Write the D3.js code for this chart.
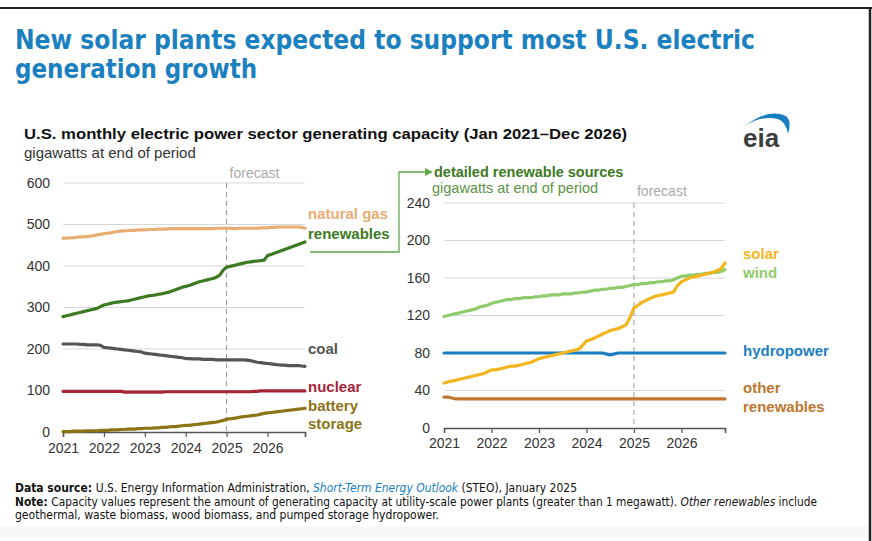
<!DOCTYPE html>
<html><head><meta charset="utf-8">
<script src="https://cdn.jsdelivr.net/npm/d3@7"></script>
<style>
html,body{margin:0;padding:0;background:#fff;}
svg{display:block;font-family:"Liberation Sans",Arial,sans-serif;}
</style></head>
<body>
<svg id="chart" width="872" height="541"></svg>
<script>
// ---------- DATA (monthly, Jan 2021 – Dec 2026) ----------
const years = [2021, 2022, 2023, 2024, 2025, 2026];
const forecastStart = 2025;
const leftTicks = [0, 100, 200, 300, 400, 500, 600];
const rightTicks = [0, 40, 80, 120, 160, 200, 240];

const naturalGas = [
 467,467,468,468,469,470,470,471,472,473,475,476,
 478,479,480,482,483,484,485,485,486,486,487,487,
 487,488,488,488,489,489,489,490,490,490,490,490,
 490,490,490,490,490,490,490,490,490,491,491,491,
 491,491,490,490,491,491,491,491,491,491,492,492,
 492,493,493,494,494,494,494,494,494,494,493,491];
const renewables = [
 278,280,282,284,286,288,290,292,294,296,298,302,
 306,308,310,312,313,314,315,316,318,320,322,324,
 326,328,329,330,332,333,335,337,340,343,346,349,
 351,353,356,359,362,364,366,368,370,373,378,390,
 397,399,401,403,405,407,409,410,411,412,413,414,
 425,428,431,434,437,440,443,446,449,452,455,458];
const coal = [
 212,212,212,212,212,211,211,210,210,210,210,209,
 204,203,202,201,200,199,198,197,196,195,194,193,
 190,189,188,187,186,185,184,183,182,181,180,179,
 177,177,176,176,176,175,175,175,175,174,174,174,
 174,174,174,174,174,174,173,172,170,168,167,166,
 165,164,163,162,161,161,160,160,160,160,159,158];
const nuclear = [
 98,98,98,98,98,98,98,98,98,98,98,98,
 98,98,98,98,98,98,96,96,96,96,96,96,
 96,96,96,96,96,96,97,97,97,97,97,97,
 97,97,97,97,97,97,97,97,97,97,97,97,
 97,97,97,97,97,97,97,97,98,98,99,99,
 99,99,99,99,99,99,99,99,99,99,99,99];
const battery = [
 1,1,1,2,2,2,2,3,3,3,3,4,
 4,4,5,5,5,6,6,7,7,7,8,8,
 9,9,9,10,10,11,11,12,13,13,14,15,
 16,16,17,18,19,20,21,22,23,24,26,28,
 31,32,33,34,36,37,38,39,40,41,43,45,
 46,47,48,49,50,51,52,53,54,55,56,57];

const solar = [
 48,49,50,51,52,53,54,55,56,57,58,60,
 62,62,63,64,65,66,66,67,68,69,70,72,
 74,75,76,77,78,79,80,81,82,83,84,88,
 93,94,96,98,100,102,104,105,106,108,110,118,
 128,131,134,136,138,140,141,142,143,144,145,152,
 156,158,160,161,162,163,164,165,166,168,170,176];
const wind = [
 119,120,121,122,123,124,125,126,127,129,130,131,
 133,134,135,136,137,137,138,138,139,139,139,140,
 140,141,141,142,142,142,143,143,143,144,144,145,
 145,146,147,147,148,148,149,149,150,150,151,152,
 153,153,154,154,155,155,156,156,157,157,158,160,
 162,162,163,163,164,164,165,165,166,166,167,169];
const hydropower = [
 80,80,80,80,80,80,80,80,80,80,80,80,
 80,80,80,80,80,80,80,80,80,80,80,80,
 80,80,80,80,80,80,80,80,80,80,80,80,
 80,80,80,80,80,79,78,79,80,80,80,80,
 80,80,80,80,80,80,80,80,80,80,80,80,
 80,80,80,80,80,80,80,80,80,80,80,80];
const otherRenewables = [
 33,33,32,31,31,31,31,31,31,31,31,31,
 31,31,31,31,31,31,31,31,31,31,31,31,
 31,31,31,31,31,31,31,31,31,31,31,31,
 31,31,31,31,31,31,31,31,31,31,31,31,
 31,31,31,31,31,31,31,31,31,31,31,31,
 31,31,31,31,31,31,31,31,31,31,31,31];

const leftSeries = [
  {name:"natural gas", values:naturalGas, color:"#E8AD73"},
  {name:"renewables", values:renewables, color:"#3B7A22"},
  {name:"coal", values:coal, color:"#555555"},
  {name:"nuclear", values:nuclear, color:"#A52639"},
  {name:"battery storage", values:battery, color:"#8C7316"}
];
const rightSeries = [
  {name:"other renewables", values:otherRenewables, color:"#C0772F"},
  {name:"hydropower", values:hydropower, color:"#1B7EC2"},
  {name:"wind", values:wind, color:"#8FCB6B"},
  {name:"solar", values:solar, color:"#F2B51E"}
];

// ---------- DRAW ----------
const svg = d3.select("#chart");
const endT = 2021 + 71/12;
const tOf = i => 2021 + i/12;

// frame
svg.append("rect").attr("x",0).attr("y",0).attr("width",872).attr("height",541).attr("fill","#fff");
svg.append("rect").attr("x",0).attr("y",526).attr("width",868).attr("height",12).attr("fill","#f6f7f6");
svg.append("line").attr("x1",0).attr("x2",872).attr("y1",8).attr("y2",8).attr("stroke","#222").attr("stroke-width",2);
svg.append("line").attr("x1",870).attr("x2",870).attr("y1",8).attr("y2",541).attr("stroke","#222").attr("stroke-width",2.5);

// title
const titleFont = '"Liberation Sans Narrow","DejaVu Sans Condensed","Liberation Sans",Arial,sans-serif';
svg.append("text").attr("x",15).attr("y",49).attr("font-family",titleFont).attr("font-weight","bold")
  .attr("font-size",27).attr("fill","#1A80BF").attr("textLength",740).attr("lengthAdjust","spacingAndGlyphs")
  .text("New solar plants expected to support most U.S. electric");
svg.append("text").attr("x",15).attr("y",78).attr("font-family",titleFont).attr("font-weight","bold")
  .attr("font-size",27).attr("fill","#1A80BF").attr("textLength",242).attr("lengthAdjust","spacingAndGlyphs")
  .text("generation growth");

// subtitle
svg.append("text").attr("x",24).attr("y",139).attr("font-weight","bold").attr("font-size",15.5).attr("fill","#111")
  .attr("textLength",603).attr("lengthAdjust","spacingAndGlyphs")
  .text("U.S. monthly electric power sector generating capacity (Jan 2021\u2013Dec 2026)");
svg.append("text").attr("x",24).attr("y",158).attr("font-size",15).attr("fill","#333")
  .text("gigawatts at end of period");

// eia logo
svg.append("text").attr("x",743).attr("y",147).attr("font-size",26).attr("font-weight","bold")
  .attr("fill","#3d3d3d").attr("font-family","Liberation Sans,Arial,sans-serif").text("eia");
svg.append("path").attr("d","M745,126 Q768,108 786,116 Q792,121 788,134 Q786,122 778,119 Q762,115 745,126 Z")
  .attr("fill","#1A7FC1");

function drawPanel(cfg){
  const x = d3.scaleLinear().domain([2021, endT]).range([cfg.x0, cfg.x1]);
  const y = d3.scaleLinear().domain([0, cfg.ticks[cfg.ticks.length-1]]).range([cfg.y0, cfg.y1]);
  const g = svg.append("g");
  // gridlines
  g.selectAll(".grid").data(cfg.ticks.filter(d=>d>0)).join("line")
    .attr("x1",cfg.x0).attr("x2",cfg.x1).attr("y1",d=>y(d)).attr("y2",d=>y(d))
    .attr("stroke","#d9d9d9").attr("stroke-width",1);
  // y labels
  g.selectAll(".yl").data(cfg.ticks).join("text")
    .attr("x",cfg.ylx).attr("y",d=>y(d)).attr("dy","0.35em").attr("text-anchor","end")
    .attr("font-size",14).attr("fill","#333").text(d=>d);
  // x axis
  const xAxis = d3.axisBottom(x).tickValues([...years, endT]).tickSize(5)
    .tickFormat(d => years.includes(d) ? d : "");
  const ax = g.append("g").attr("transform",`translate(0,${cfg.y0})`).call(xAxis);
  ax.select(".domain").attr("stroke","#555").attr("stroke-width",1.5);
  ax.selectAll(".tick line").attr("stroke","#555").attr("stroke-width",1.2);
  ax.selectAll(".tick text").attr("font-size",14).attr("fill","#333").attr("dy",cfg.xdy)
    .attr("font-family","Liberation Sans,Arial,sans-serif");
  // forecast line
  g.append("line").attr("x1",x(forecastStart)).attr("x2",x(forecastStart))
    .attr("y1",cfg.y1).attr("y2",cfg.y0).attr("stroke","#999").attr("stroke-width",1)
    .attr("stroke-dasharray","5,4");
  g.append("text").attr("x",x(forecastStart)+3).attr("y",cfg.fy).attr("font-size",14).attr("fill","#aaa")
    .text("forecast");
  // series
  const line = d3.line().x((d,i)=>x(tOf(i))).y(d=>y(d)).curve(d3.curveLinear);
  cfg.series.forEach(s=>{
    g.append("path").datum(s.values).attr("d",line).attr("fill","none")
      .attr("stroke",s.color).attr("stroke-width",3.2).attr("stroke-linejoin","round").attr("stroke-linecap","round");
  });
  return {x,y};
}

drawPanel({x0:63,x1:305,y0:432,y1:183,ticks:leftTicks,ylx:50,xdy:"0.95em",fy:178,series:leftSeries});
drawPanel({x0:444,x1:725,y0:428,y1:203,ticks:rightTicks,ylx:430,xdy:"0.85em",fy:196,series:rightSeries});

// labels
function lab(x,y,t,c,w){ svg.append("text").attr("x",x).attr("y",y).attr("font-size",15)
  .attr("font-weight",w||"bold").attr("fill",c).text(t); }
lab(308,219,"natural gas","#E8AD73");
lab(308,239,"renewables","#3B7A22");
lab(308,354,"coal","#555555");
lab(308,392,"nuclear","#A52639");
lab(308,411,"battery","#8C7316");
lab(308,429,"storage","#8C7316");
lab(743,259,"solar","#F2B51E");
lab(743,278,"wind","#8FCB6B");
lab(743,356,"hydropower","#1B7EC2");
lab(743,393,"other","#C0772F");
lab(743,412,"renewables","#C0772F");

// connector
svg.append("path").attr("d","M310,252 H399 V172 H426").attr("fill","none").attr("stroke","#5FA84B").attr("stroke-width",1.3);
svg.append("path").attr("d","M425,168 L433,172 L425,176 Z").attr("fill","#5FA84B");
svg.append("text").attr("x",434).attr("y",177).attr("font-size",14.5).attr("font-weight","bold").attr("fill","#3B7A22")
  .text("detailed renewable sources");
svg.append("text").attr("x",432).attr("y",193).attr("font-size",14.5).attr("fill","#5C9447")
  .text("gigawatts at end of period");

// footer
const footFont = '"Liberation Sans Narrow","DejaVu Sans Condensed","Liberation Sans",Arial,sans-serif';
const f1 = svg.append("text").attr("x",15).attr("y",492).attr("font-size",11.5).attr("font-family",footFont).attr("fill","#111")
  .attr("textLength",562).attr("lengthAdjust","spacingAndGlyphs");
f1.append("tspan").attr("font-weight","bold").text("Data source: ");
f1.append("tspan").text("U.S. Energy Information Administration, ");
f1.append("tspan").attr("font-style","italic").attr("fill","#1A80BF").text("Short-Term Energy Outlook");
f1.append("tspan").text(" (STEO), January 2025");
const f2 = svg.append("text").attr("x",15).attr("y",506).attr("font-size",11.5).attr("font-family",footFont).attr("fill","#111")
  .attr("textLength",802).attr("lengthAdjust","spacingAndGlyphs");
f2.append("tspan").attr("font-weight","bold").text("Note: ");
f2.append("tspan").text("Capacity values represent the amount of generating capacity at utility-scale power plants (greater than 1 megawatt). ");
f2.append("tspan").attr("font-style","italic").text("Other renewables");
f2.append("tspan").text(" include");
svg.append("text").attr("x",15).attr("y",519).attr("font-size",11.5).attr("font-family",footFont).attr("fill","#111")
  .attr("textLength",424).attr("lengthAdjust","spacingAndGlyphs")
  .text("geothermal, waste biomass, wood biomass, and pumped storage hydropower.");
</script>
</body></html>
